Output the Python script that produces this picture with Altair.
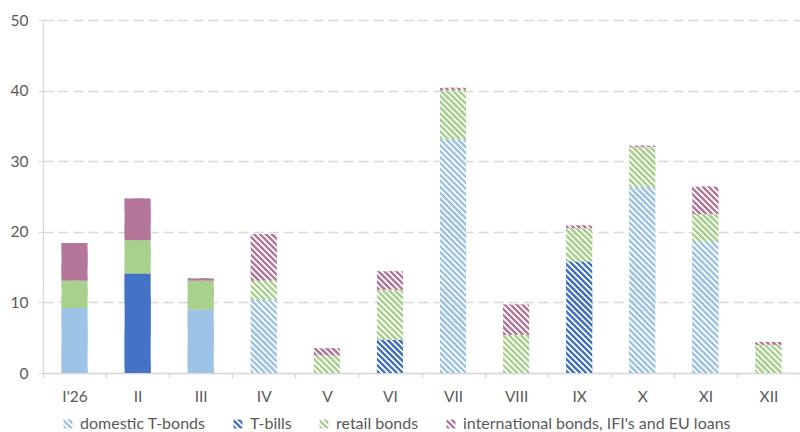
import altair as alt
import pandas as pd

# Monthly redemptions by instrument, bn
months = ["I'26", "II", "III", "IV", "V", "VI", "VII", "VIII", "IX", "X", "XI", "XII"]
series = ["domestic T-bonds", "T-bills", "retail bonds", "international bonds, IFI's and EU loans"]
domestic_tbonds = [9.2, 0, 9.0, 10.4, 0, 0, 33.1, 0, 0, 26.3, 18.6, 0]
tbills = [0, 14.1, 0, 0, 0, 4.7, 0, 0, 15.8, 0, 0, 0]
retail_bonds = [3.9, 4.7, 4.1, 2.7, 2.5, 7.1, 7.0, 5.4, 4.7, 5.7, 3.9, 4.0]
intl_bonds_loans = [5.3, 5.9, 0.3, 6.6, 1.0, 2.6, 0.3, 4.3, 0.4, 0.2, 3.9, 0.4]
# months drawn with solid fill; the remaining ones are hatched
solid_months = ["I'26", "II", "III"]

colors = ["#9DC3E6", "#4472C4", "#A9D18E", "#B4779A"]
TEXT = "#595959"
LINE = "#D9D9D9"
FONT = "Lato"
FS = 15.5
LEGEND_FS = 16

rows = []
for j, vals in enumerate([domestic_tbonds, tbills, retail_bonds, intl_bonds_loans]):
    for i, v in enumerate(vals):
        if v > 0:
            rows.append({"month": months[i], "series": series[j], "ord": j, "v": v,
                         "solid": months[i] in solid_months})
df = pd.DataFrame(rows)

# chart geometry and hatch settings
W, H, YMAX = 757, 353, 50
BAR = 26
PPU = H / YMAX
PERIOD = 4.2          # stripe spacing (px, perpendicular)
NSTRIPE = 48
SPAN = NSTRIPE * PERIOD


def stripe_stops(n, color_expr):
    # soft-edged stripes: ramp up, hold colour, ramp down, white gap
    prof = [(0.0, "w"), (0.12, "c"), (0.58, "c"), (0.72, "w")]
    parts = []
    for k in range(n):
        for off, kind in prof:
            col = color_expr if kind == "c" else "'#ffffff'"
            parts.append(f"{{offset:{(k + off) / n:.5f},color:{col}}}")
    parts.append(f"{{offset:1,color:'#ffffff'}}")
    return "[" + ",".join(parts) + "]"


# "\" diagonal hatch with constant pixel spacing, whatever the segment height
seg_h = f"(datum.v*{PPU})"
den = f"({BAR}*{BAR}+{seg_h}*{seg_h})"
hatch_expr = (
    "datum.solid ? datum.col : {gradient:'linear',x1:0,y1:1,"
    f"x2:sqrt(2)*{BAR}*{SPAN}/{den},"
    f"y2:1-sqrt(2)*{seg_h}*{SPAN}/{den},"
    f"stops:{stripe_stops(NSTRIPE, 'datum.col')}}}"
)
col_expr = "[" + ",".join(f"'{c}'" for c in colors) + "][datum.ord]"

# hatched swatches for the legend
legend_range = [
    {"expr": "{gradient:'linear',x1:0,y1:1,x2:1,y2:0,stops:"
             + stripe_stops(3, f"'{c}'") + "}"}
    for c in colors
]

base = alt.Chart(df).transform_calculate(
    col=col_expr
).transform_stack(
    stack="v", groupby=["month"], as_=["y0", "y1"], sort=[alt.SortField("ord")]
)

x_enc = alt.X(
    "month:N", sort=months,
    scale=alt.Scale(paddingInner=0, paddingOuter=0),
    axis=alt.Axis(title=None, labelAngle=0, tickBand="extent", grid=False,
                  domainColor=LINE, domainWidth=1.5, tickColor=LINE, tickWidth=1.5,
                  tickSize=5, labelFont=FONT, labelFontSize=FS, labelColor=TEXT,
                  labelPadding=11),
)
y_enc = alt.Y(
    "y0:Q", scale=alt.Scale(domain=[0, YMAX], nice=False),
    axis=alt.Axis(title=None, values=[0, 10, 20, 30, 40, 50], grid=True,
                  gridColor=LINE, gridDash=[10, 5], gridWidth=1.3,
                  domainColor=LINE, domainWidth=1.3, tickColor=LINE, tickSize=5,
                  labelFont=FONT, labelFontSize=FS, labelColor=TEXT, labelPadding=10),
)

legend_layer = base.mark_bar(size=BAR).encode(
    x=x_enc, y=y_enc, y2="y1:Q",
    color=alt.Color(
        "series:N",
        scale=alt.Scale(domain=series, range=legend_range),
        legend=alt.Legend(orient="none", legendX=17, legendY=396, direction="horizontal",
                          title=None, symbolType="square", symbolSize=81,
                          symbolStrokeWidth=0, labelFont=FONT, labelFontSize=LEGEND_FS,
                          labelColor=TEXT, labelOffset=4, columnPadding=24,
                          padding=0, labelLimit=500),
    ),
)

bars = base.transform_calculate(
    fillv=hatch_expr
).mark_bar(size=BAR).encode(
    x=x_enc, y=y_enc, y2="y1:Q",
    fill=alt.Fill("fillv:N", scale=None, legend=None),
)

chart = alt.layer(legend_layer, bars).properties(
    width=W, height=H,
    autosize=alt.AutoSizeParams(type="none"),
    padding={"left": 43, "top": 20, "right": 0, "bottom": 59},
    background="white",
).configure_view(stroke=None)

chart.save("out.html", embed_options={"renderer": "svg", "actions": False})
